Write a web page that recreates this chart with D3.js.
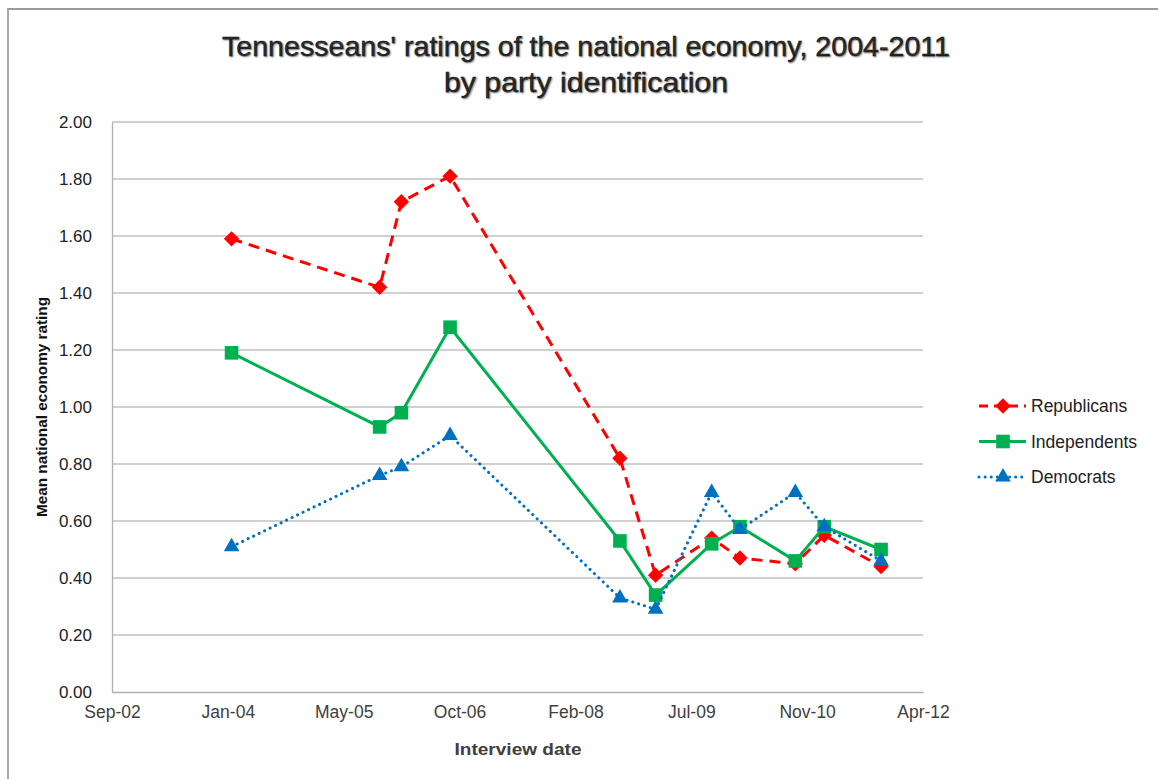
<!DOCTYPE html>
<html>
<head>
<meta charset="utf-8">
<script src="https://cdn.jsdelivr.net/npm/d3@7"></script>
<style>
  html, body { margin: 0; padding: 0; background: #fff; }
  svg { display: block; }
  text { font-family: "Liberation Sans", Arial, sans-serif; }
</style>
</head>
<body>
<svg id="chart" width="1158" height="779"></svg>
<script>
// ---- data ----
const dates = ["2004-01-30", "2005-10-30", "2006-02-01", "2006-08-30", "2008-09-01",
               "2009-02-02", "2009-10-02", "2010-02-01", "2010-09-28", "2011-01-31", "2011-10-03"];
const republicans = [1.59, 1.42, 1.72, 1.81, 0.82, 0.41, 0.54, 0.47, 0.45, 0.55, 0.44];
const independents = [1.19, 0.93, 0.98, 1.28, 0.53, 0.34, 0.52, 0.58, 0.46, 0.58, 0.50];
const democrats = [0.51, 0.76, 0.79, 0.90, 0.33, 0.29, 0.70, 0.57, 0.70, 0.58, 0.46];
const seriesNames = ["Republicans", "Independents", "Democrats"];
const yTicks = [0, 0.2, 0.4, 0.6, 0.8, 1.0, 1.2, 1.4, 1.6, 1.8, 2.0];
const xStart = "2002-09-01", xEnd = "2012-04-01", xStepDays = 500;
const titleLines = ["Tennesseans' ratings of the national economy, 2004-2011", "by party identification"];
const yTitle = "Mean national economy rating";
const xTitle = "Interview date";

// ---- setup ----
const svg = d3.select("#chart");
const parse = d3.utcParse("%Y-%m-%d");
const margin = {left: 112, top: 122, right: 923, bottom: 692};

const t0 = parse(xStart), t1 = parse(xEnd);
const x = d3.scaleUtc().domain([t0, t1]).range([margin.left, margin.right]);
const y = d3.scaleLinear().domain([0, 2]).range([margin.bottom, margin.top]);
const xTickVals = d3.range(0, 8).map(i => d3.utcDay.offset(t0, i * xStepDays));
const fmt = d3.utcFormat("%b-%y");

// outer frame
svg.append("line").attr("x1", 7).attr("x2", 1158).attr("y1", 9).attr("y2", 9)
  .attr("stroke", "#9a9a9a").attr("stroke-width", 2);
svg.append("line").attr("x1", 8).attr("x2", 8).attr("y1", 9).attr("y2", 779)
  .attr("stroke", "#a8a8a8").attr("stroke-width", 2);

// title
const titleWidths = [728, 284];
svg.append("g").selectAll("text").data(titleLines).join("text")
  .attr("x", 586).attr("y", (d, i) => 56 + i * 36)
  .attr("text-anchor", "middle")
  .attr("font-size", 28)
  .attr("textLength", (d, i) => titleWidths[i])
  .attr("lengthAdjust", "spacingAndGlyphs")
  .attr("fill", "#111")
  .attr("stroke", "#111").attr("stroke-width", 0.4)
  .style("text-shadow", "1px 1px 1.5px #8a8a8a")
  .text(d => d);

// gridlines
svg.append("g").selectAll("line").data(yTicks.filter(v => v > 0)).join("line")
  .attr("x1", margin.left).attr("x2", margin.right)
  .attr("y1", d => y(d)).attr("y2", d => y(d))
  .attr("stroke", "#c0c0c0").attr("stroke-width", 1.3);

// y axis
const yAxis = d3.axisLeft(y).tickValues(yTicks).tickFormat(d3.format(".2f")).tickSize(0).tickPadding(20);
const gy = svg.append("g").attr("transform", `translate(${margin.left},0)`).call(yAxis);
gy.select(".domain").attr("stroke", "#b0b0b0").attr("stroke-width", 1.3);
gy.selectAll("text").attr("font-size", 17).attr("fill", "#222").attr("font-family", "Liberation Sans, Arial, sans-serif");

// x axis
const xAxis = d3.axisBottom(x).tickValues(xTickVals).tickFormat(fmt).tickSize(0).tickPadding(14);
const gx = svg.append("g").attr("transform", `translate(0,${margin.bottom})`).call(xAxis);
gx.select(".domain").attr("stroke", "#b0b0b0").attr("stroke-width", 1.3);
gx.selectAll("text").attr("font-size", 17.5).attr("fill", "#404040").attr("font-family", "Liberation Sans, Arial, sans-serif");

// axis titles
svg.append("text").attr("transform", "translate(47,407) rotate(-90)")
  .attr("text-anchor", "middle").attr("font-size", 14).attr("font-weight", "bold").attr("fill", "#111")
  .attr("textLength", 220).attr("lengthAdjust", "spacingAndGlyphs")
  .text(yTitle);
svg.append("text").attr("x", 518).attr("y", 755)
  .attr("text-anchor", "middle").attr("font-size", 17).attr("font-weight", "bold").attr("fill", "#404040")
  .attr("textLength", 127).attr("lengthAdjust", "spacingAndGlyphs")
  .text(xTitle);

// series
const series = [
  {name: seriesNames[0], values: republicans, color: "#ff0000", dash: "11,7", legendDash: "9,6", cap: "butt", symbol: d3.symbolSquare, size: 118, rot: 45},
  {name: seriesNames[1], values: independents, color: "#00b050", dash: null, legendDash: null, cap: "butt", symbol: d3.symbolSquare, size: 185, rot: 0},
  {name: seriesNames[2], values: democrats, color: "#0070c0", dash: "0.1,6", legendDash: "0.1,6", cap: "round", symbol: d3.symbolTriangle, size: 105, rot: 0}
];
const pts = s => dates.map((d, i) => ({t: parse(d), v: s.values[i]}));
const line = d3.line().x(d => x(d.t)).y(d => y(d.v));

series.forEach(s => {
  const g = svg.append("g");
  g.append("path").datum(pts(s)).attr("d", line)
    .attr("fill", "none").attr("stroke", s.color).attr("stroke-width", 3)
    .attr("stroke-dasharray", s.dash).attr("stroke-linecap", s.cap).attr("stroke-linejoin", "round");
  g.selectAll("path.m").data(pts(s)).join("path").attr("class", "m")
    .attr("transform", d => `translate(${x(d.t)},${y(d.v)}) rotate(${s.rot})`)
    .attr("d", d3.symbol().type(s.symbol).size(s.size))
    .attr("fill", s.color);
});

// legend
const lg = svg.append("g");
series.forEach((s, i) => {
  const ly = 406 + i * 35.5;
  lg.append("line").attr("x1", 979).attr("x2", 1026).attr("y1", ly).attr("y2", ly)
    .attr("stroke", s.color).attr("stroke-width", 3)
    .attr("stroke-dasharray", s.legendDash)
    .attr("stroke-linecap", s.cap);
  lg.append("path").attr("transform", `translate(1003,${ly}) rotate(${s.rot})`)
    .attr("d", d3.symbol().type(s.symbol).size(s.size)).attr("fill", s.color);
  lg.append("text").attr("x", 1031).attr("y", ly + 6).attr("font-size", 17.5).attr("fill", "#222").text(s.name);
});
</script>
</body>
</html>
